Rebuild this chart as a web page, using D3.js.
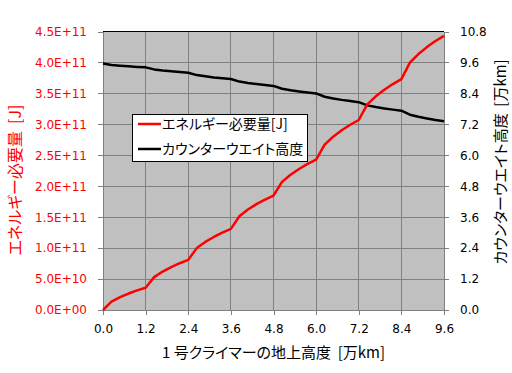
<!DOCTYPE html>
<html><head><meta charset="utf-8">
<script src="https://cdn.jsdelivr.net/npm/d3@7"></script>
<style>
body{margin:0;background:#fff}
.tick text{font-family:"DejaVu Sans",sans-serif;font-size:12px}
.jp{font-family:"Noto Sans CJK JP",sans-serif;font-feature-settings:"palt";white-space:pre}
</style>
</head><body>
<svg id="c" width="512" height="373"></svg>
<script>
// climber altitude [万km]
const heights = [0,0.24,0.48,0.72,0.96,1.2,1.44,1.68,1.92,2.16,2.4,2.64,2.88,3.12,3.36,3.6,3.84,4.08,4.32,4.56,4.8,5.04,5.28,5.52,5.76,6.0,6.24,6.48,6.72,6.96,7.2,7.44,7.68,7.92,8.16,8.4,8.64,8.88,9.12,9.36,9.6];
// energy required [J]
const energy = [0,1.37e10,2.09e10,2.66e10,3.17e10,3.6e10,5.31e10,6.21e10,6.93e10,7.56e10,8.1e10,1.0e11,1.10e11,1.18e11,1.25e11,1.31e11,1.515e11,1.623e11,1.71e11,1.785e11,1.85e11,2.07e11,2.186e11,2.279e11,2.36e11,2.43e11,2.673e11,2.801e11,2.904e11,2.993e11,3.07e11,3.321e11,3.453e11,3.558e11,3.651e11,3.73e11,3.996e11,4.136e11,4.248e11,4.346e11,4.43e11];
// counterweight altitude [万km]
const counterweight = [9.56,9.503,9.473,9.449,9.428,9.41,9.33,9.288,9.255,9.225,9.20,9.109,9.061,9.02,8.989,8.96,8.857,8.803,8.76,8.722,8.69,8.58,8.522,8.475,8.435,8.40,8.271,8.203,8.148,8.101,8.06,7.935,7.869,7.816,7.77,7.73,7.574,7.492,7.427,7.369,7.32];

const xTicks = [0,1.2,2.4,3.6,4.8,6.0,7.2,8.4,9.6];
const leftTicks = [0,5e10,1e11,1.5e11,2e11,2.5e11,3e11,3.5e11,4e11,4.5e11];
const leftTickLabels = ["0.0E+00","5.0E+10","1.0E+11","1.5E+11","2.0E+11","2.5E+11","3.0E+11","3.5E+11","4.0E+11","4.5E+11"];
const rightTicks = [0,1.2,2.4,3.6,4.8,6.0,7.2,8.4,9.6,10.8];

const seriesNames = ["エネルギー必要量[J]","カウンターウエイト高度"];
const xTitle = "1 号クライマーの地上高度  [万km]";
const leftTitle = "エネルギー必要量  [J]";
const rightTitle = "カウンターウエイト高度  [万km]";

const L=103,R=444,T=31.5,B=310;
const svg = d3.select("#c");
const x = d3.scaleLinear([0,9.6],[L,R]);
const yL = d3.scaleLinear([0,4.5e11],[B,T]);
const yR = d3.scaleLinear([0,10.8],[B,T]);

svg.append("rect").attr("x",L).attr("y",T).attr("width",R-L).attr("height",B-T).attr("fill","#c0c0c0");

// gridlines
svg.append("g").selectAll("line").data(xTicks).join("line")
  .attr("x1",d=>x(d)).attr("x2",d=>x(d)).attr("y1",T).attr("y2",B)
  .attr("stroke","#808080").attr("stroke-width",1).attr("shape-rendering","crispEdges");
svg.append("g").selectAll("line").data(leftTicks).join("line")
  .attr("x1",L).attr("x2",R).attr("y1",d=>yL(d)).attr("y2",d=>yL(d))
  .attr("stroke","#808080").attr("stroke-width",1).attr("shape-rendering","crispEdges");
svg.append("line").attr("x1",L).attr("x2",R).attr("y1",T).attr("y2",T).attr("stroke","#000").attr("shape-rendering","crispEdges");

function styleAxis(g,color){
  g.select(".domain").attr("stroke","#808080").attr("shape-rendering","crispEdges");
  g.selectAll(".tick line").attr("stroke","#808080").attr("shape-rendering","crispEdges");
  g.selectAll(".tick text").attr("fill",color);
}
svg.append("g").attr("transform",`translate(${L},0)`)
  .call(d3.axisLeft(yL).tickValues(leftTicks).tickSize(5).tickSizeOuter(0).tickPadding(11)
    .tickFormat((d,i)=>leftTickLabels[i]))
  .call(g=>styleAxis(g,"#ff0000"));
svg.append("g").attr("transform",`translate(${R},0)`)
  .call(d3.axisRight(yR).tickValues(rightTicks).tickSize(5).tickSizeOuter(0).tickPadding(11)
    .tickFormat(d3.format(".1f")))
  .call(g=>styleAxis(g,"#000"));
svg.append("g").attr("transform",`translate(0,${B})`)
  .call(d3.axisBottom(x).tickValues(xTicks).tickSize(5).tickSizeOuter(0).tickPadding(9)
    .tickFormat(d3.format(".1f")))
  .call(g=>styleAxis(g,"#000"));

const idx = d3.range(heights.length);
svg.append("path").datum(idx).attr("fill","none").attr("stroke","#000").attr("stroke-width",2.5)
  .attr("stroke-linejoin","round")
  .attr("d",d3.line().x(i=>x(heights[i])).y(i=>yR(counterweight[i])));
svg.append("path").datum(idx).attr("fill","none").attr("stroke","#ff0000").attr("stroke-width",2.5)
  .attr("stroke-linejoin","round")
  .attr("d",d3.line().x(i=>x(heights[i])).y(i=>yL(energy[i])));

// titles
svg.append("text").attr("class","jp").attr("x",(L+R)/2).attr("y",358).attr("text-anchor","middle")
  .attr("font-size",15).attr("fill","#000").text(xTitle);
svg.append("text").attr("class","jp").attr("transform","translate(21,180) rotate(-90)").attr("text-anchor","middle")
  .attr("font-size",16).attr("fill","#ff0000").text(leftTitle);
svg.append("text").attr("class","jp").attr("transform","translate(506,162) rotate(-90)").attr("text-anchor","middle")
  .attr("font-size",15).attr("fill","#000").text(rightTitle);

// legend
const lg = svg.append("g");
lg.append("rect").attr("x",132.5).attr("y",114.5).attr("width",175).attr("height",47).attr("fill","#fff").attr("stroke","#000");
const colors = ["#ff0000","#000"];
const ly = [124,149];
seriesNames.forEach((n,i)=>{
  lg.append("line").attr("x1",138).attr("x2",161).attr("y1",ly[i]).attr("y2",ly[i]).attr("stroke",colors[i]).attr("stroke-width",2.5);
  lg.append("text").attr("class","jp").attr("x",162).attr("y",ly[i]+5).attr("font-size",14).attr("fill","#000").text(n);
});
</script>
</body></html>
